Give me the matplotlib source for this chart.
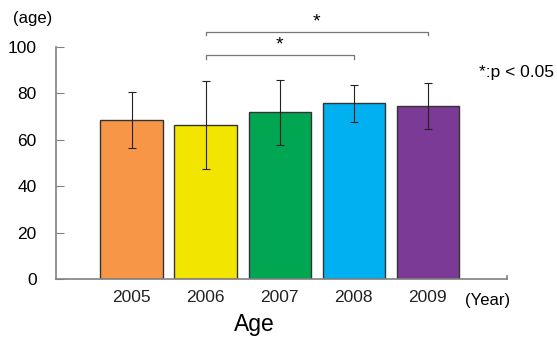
import matplotlib.pyplot as plt

plt.rcParams['font.family'] = ['Liberation Sans', 'DejaVu Sans']

# data
years = ['2005', '2006', '2007', '2008', '2009']
mean_age = [68.5, 66.3, 71.8, 75.8, 74.5]
sd_age = [12, 19, 14, 8, 10]
colors = ['#F79646', '#F2E600', '#00A651', '#00B0F0', '#7B3A96']

# significance brackets: (from bar, to bar, height)
brackets = [(1, 3, 96.5), (1, 4, 106.5)]

fig = plt.figure(figsize=(5.57, 3.40), dpi=100)
ax = fig.add_axes([56 / 557, 1 - 279 / 340, (507 - 56) / 557, (279 - 47) / 340])

x = list(range(len(years)))
ax.bar(x, mean_age, width=0.84, color=colors, edgecolor='#333333', linewidth=1.0)
ax.errorbar(x, mean_age, yerr=sd_age, fmt='none', ecolor='#222222',
            elinewidth=0.8, capsize=3, capthick=0.8)

# brackets with stars
for a, b, h in brackets:
    ax.plot([a, a, b, b], [h - 1.5, h, h, h - 1.5], color='#777777', lw=0.9,
            clip_on=False)
    ax.text((a + b) / 2, h + 0.5, '*', ha='center', va='bottom', fontsize=14,
            clip_on=False)

ax.set_xlim(-1.02, 5.07)
ax.set_ylim(0, 100)
ax.set_yticks([0, 20, 40, 60, 80, 100])
ax.set_xticks(x)
ax.set_xticklabels(years, fontsize=12.5, color='#222222')
ax.tick_params(axis='y', direction='in', length=6, color='#808080',
               labelsize=12.5, pad=14)
ax.tick_params(axis='x', length=0, pad=8)

for side in ['top', 'right']:
    ax.spines[side].set_visible(False)
for side in ['left', 'bottom']:
    ax.spines[side].set_color('#808080')
    ax.spines[side].set_linewidth(1.2)

# small tick at the right end of the x axis
ax.plot([5.07, 5.07], [0, 1.5], color='#808080', lw=1.2, clip_on=False)

fig.text(13 / 557, 1 - 18 / 340, '(age)', fontsize=12, va='center', ha='left')
fig.text(465 / 557, 1 - 300 / 340, '(Year)', fontsize=12, va='center', ha='left')
fig.text(254 / 557, 1 - 324 / 340, 'Age', fontsize=16.5, va='center', ha='center')
fig.text(479 / 557, 1 - 73 / 340, '*:p < 0.05', fontsize=12.5, va='center', ha='left')

fig.savefig('out.png', dpi=100)
